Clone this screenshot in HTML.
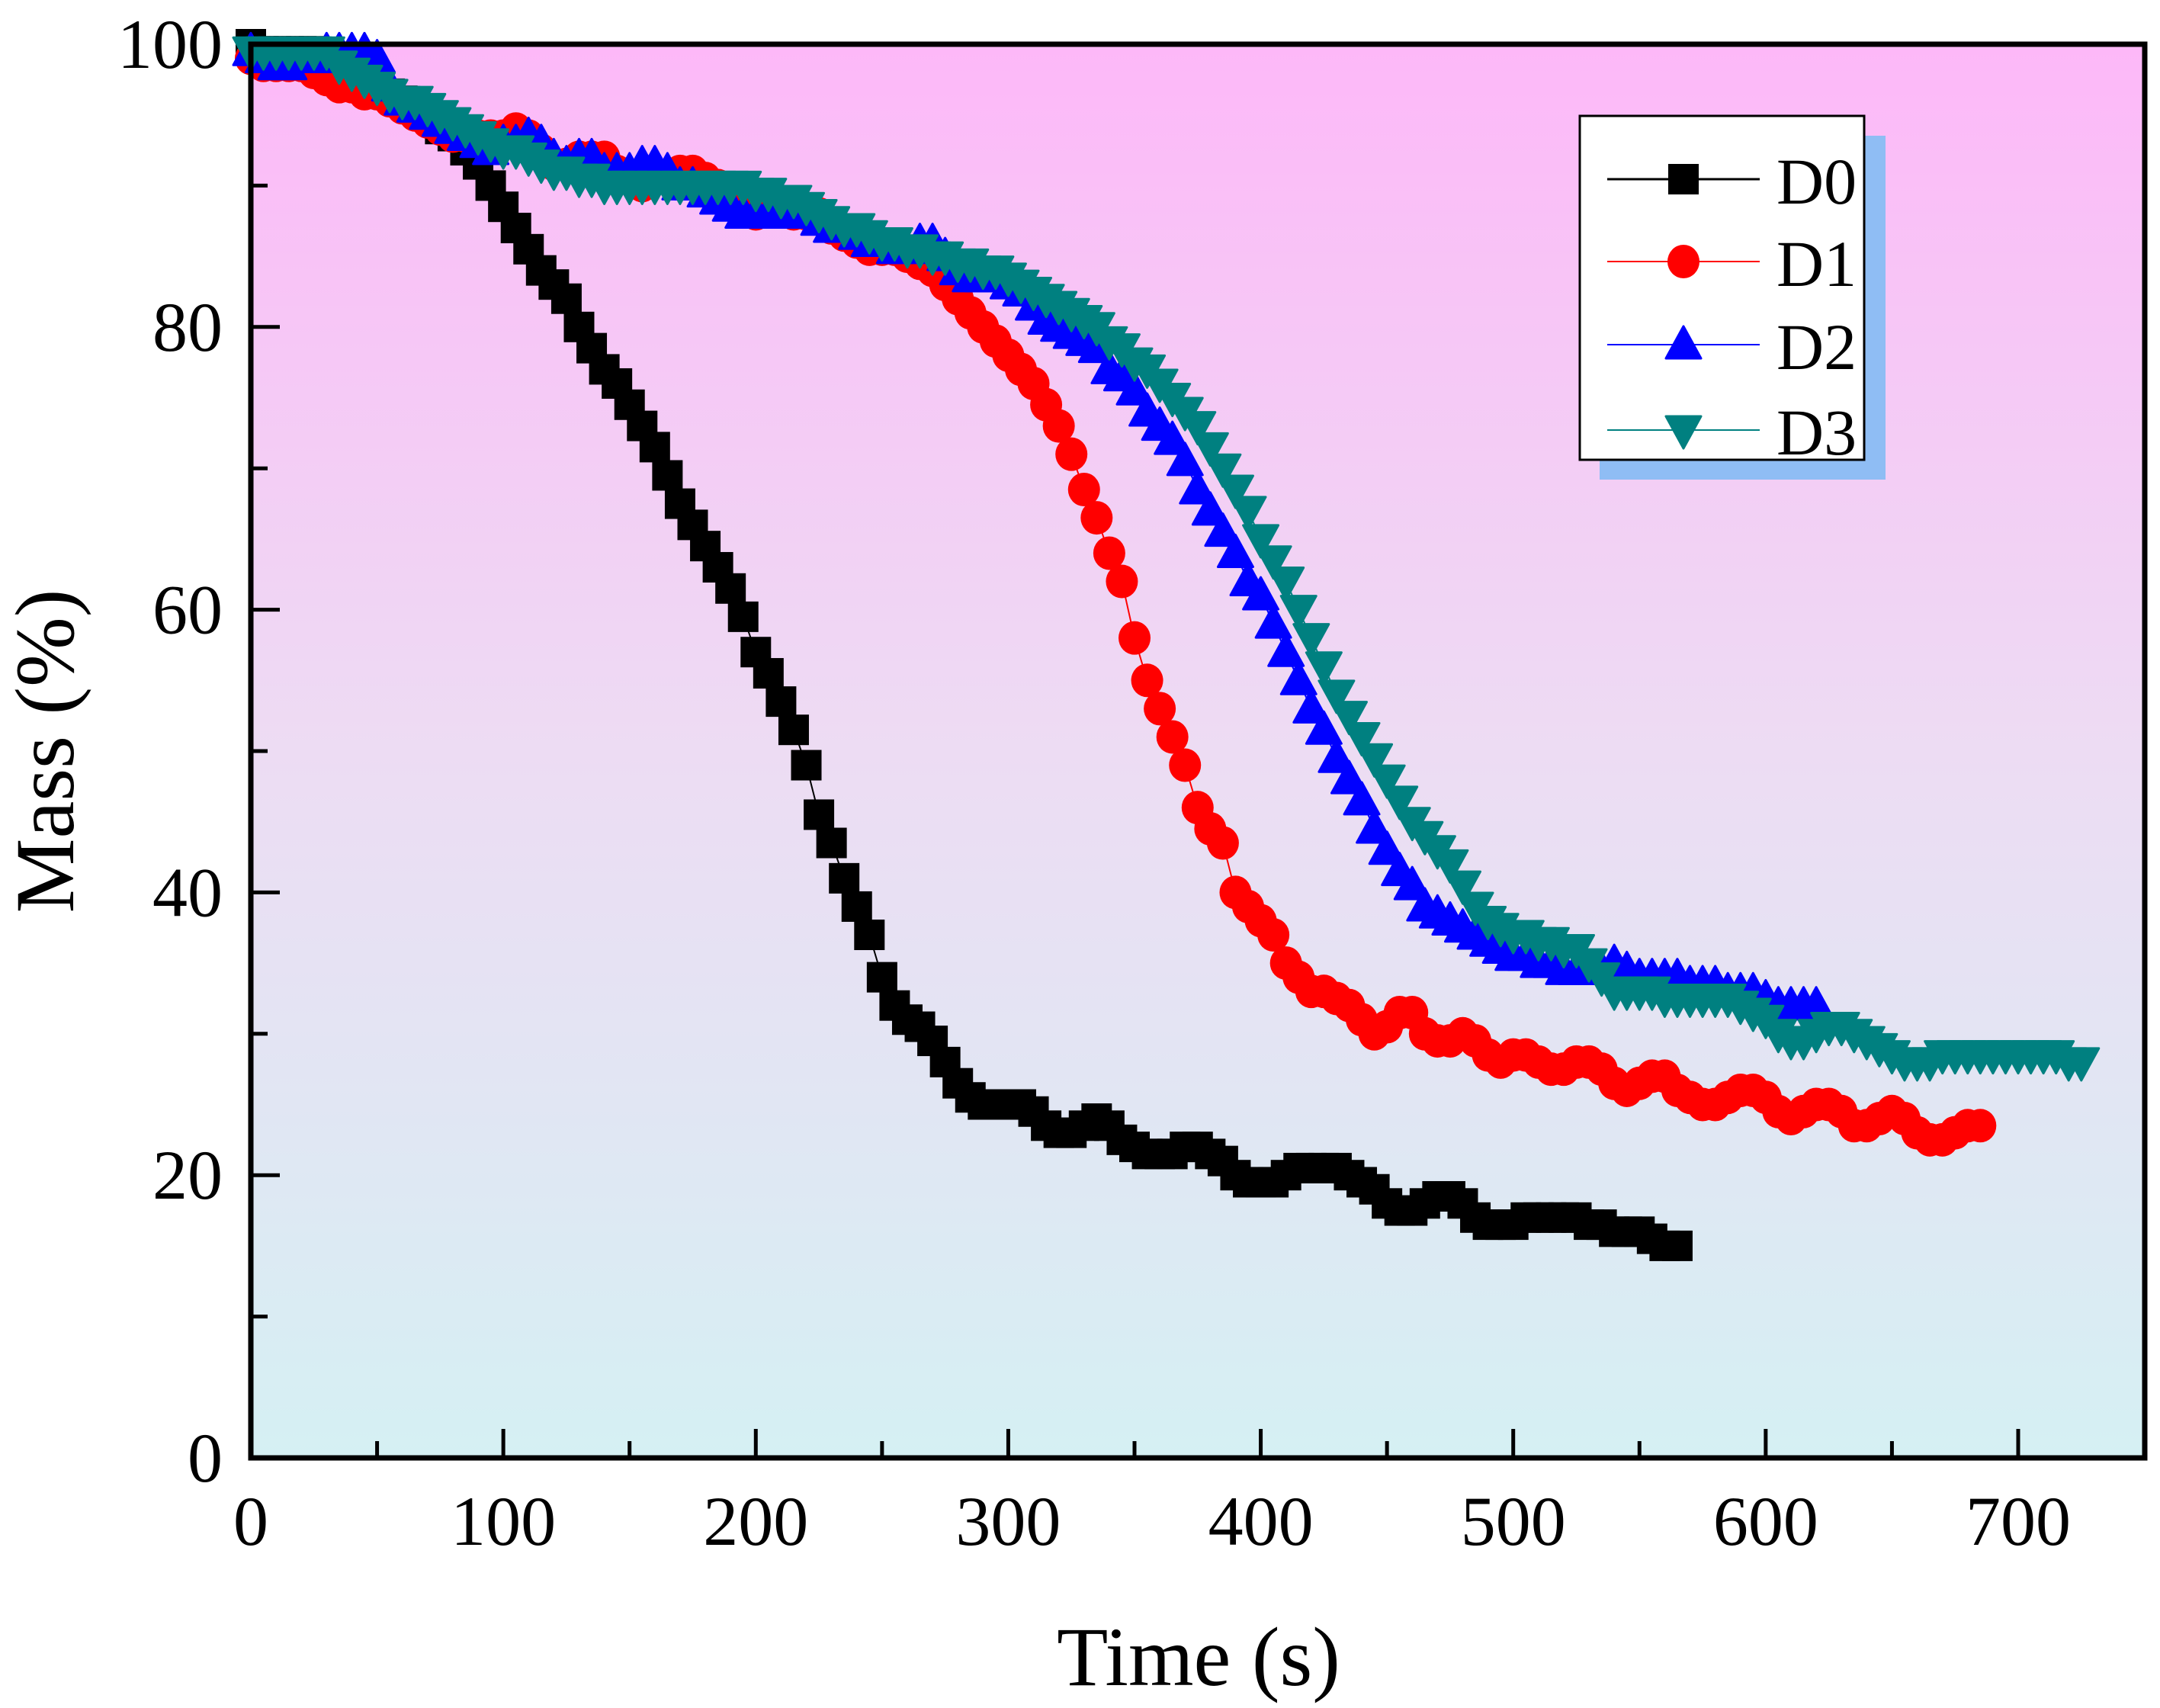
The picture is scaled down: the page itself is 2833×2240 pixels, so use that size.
<!DOCTYPE html>
<html><head><meta charset="utf-8"><style>
html,body{margin:0;padding:0;background:#fff;}
svg{display:block;font-family:"Liberation Serif",serif;}
</style></head><body>
<svg id="chart" width="2833" height="2240" viewBox="0 0 2833 2240" xmlns="http://www.w3.org/2000/svg">
<defs>
<linearGradient id="bg" x1="0" y1="0" x2="0" y2="1">
<stop offset="0" stop-color="#fdb8f8"/>
<stop offset="0.5" stop-color="#eddcf3"/>
<stop offset="1" stop-color="#d5f0f3"/>
</linearGradient>
</defs>
<rect x="329" y="58" width="2484" height="1854" fill="url(#bg)"/>
<g id="ticks"></g>
<g id="series"></g>
<rect x="329" y="58" width="2484" height="1854" fill="none" stroke="#000" stroke-width="7"/>
<g id="labels"></g>
<text x="1572" y="2210" font-size="110" text-anchor="middle">Time (s)</text>
<text transform="translate(96,985) rotate(-90)" font-size="110" text-anchor="middle">Mass (%)</text>
<g>
<rect x="2098" y="178" width="375" height="451" fill="#8fbdf4"/>
<rect x="2072" y="152" width="373" height="451" fill="#fff" stroke="#000" stroke-width="3"/>
<g id="legend-entries"></g>
</g>
</svg>
<script>
const xTicks=[0,100,200,300,400,500,600,700];
const yTicks=[0,20,40,60,80,100];
const seriesNames=["D0","D1","D2","D3"];
const D0=[100,99.5,99.5,99.5,99.5,99.5,99,98.5,98,97.5,97,96.5,96,95.5,95,94,93.5,92.5,91.5,90,88.5,87,85.5,84,83,82,80,78.5,77,76,74.5,73,71.5,69.5,67.5,66,64.5,63,61.5,59.5,57,55.5,53.5,51.5,49,45.5,43.5,41,39,37,34,32,31,30.5,29.5,28,26.5,25.5,25,25,25,25,24.5,23.5,23,23,23.5,24,23.5,22.5,22,21.5,21.5,21.5,22,22,21.5,21,20,19.5,19.5,19.5,20,20.5,20.5,20.5,20.5,20,19.5,19,18,17.5,17.5,18,18.5,18.5,18,17,16.5,16.5,16.5,17,17,17,17,17,16.5,16.5,16,16,16,15.5,15,15];
const D1=[99,98.5,98.5,98.5,98.5,98,97.5,97,97,96.5,96.5,96,95.5,95,94.5,94,93.5,93.5,93.5,93.5,93.5,94,93.5,92.5,91.5,91.5,92,92,92,91,90.5,90,90.5,90.5,91,91,90.5,90,89,88.5,88,88.5,88.5,88,88,88,87,86.5,86,85.5,85.5,85.5,85,84.5,84,83,82,81,80,79,78,77,76,74.5,73,71,68.5,66.5,64,62,58,55,53,51,49,46,44.5,43.5,40,39,38,37,35,34,33,33,32.5,32,31,30,30.5,31.5,31.5,30,29.5,29.5,30,29.5,28.5,28,28.5,28.5,28,27.5,27.5,28,28,27.5,26.5,26,26.5,27,27,26,25.5,25,25,25.5,26,26,25.5,24.5,24,24.5,25,25,24.5,23.5,23.5,24,24.5,24,23,22.5,22.5,23,23.5,23.5];
const D2=[99.5,99,98.5,98.5,99,99,99.5,99.5,99.5,99.5,99,97,96,95.5,95,94.5,94,93.5,93,92.5,93,93,93.5,93,92,91.5,92,92,91,91,91,91.5,91.5,91,90,90,89.5,89,88.5,88,88,88,88,88,88,87.5,87,87,86.5,86,86,85.5,85.5,86,86,85,84,83.5,83.5,83.5,83,82.5,81.5,80.5,80,79.5,79,78.5,77,76.5,75.5,74,73,72,70.5,68.5,67,65.5,64,62,61,59,57,55,53,51.5,49.5,48,46.5,44.5,43,41.5,40.5,39,38.5,38,37.5,37,36.5,36,35.5,35.5,35,35,34.5,34.5,34.5,34.5,35,34.5,34,34,34,34,33.5,33.5,33.5,33,33,33,32.5,32,32,32,32];
const D3=[99.5,99.5,99.5,99.5,99.5,99.5,99.5,98.5,98,97.5,97,96.5,96,96,95.5,95,94.5,94,93.5,93,92.5,92.5,92,91.5,91,91,90.5,90.5,90,90,90,90,90,90,90,90,90,90,90,90,89.5,89.5,89,89,88.5,88,87.5,87,87,86.5,86,86,85.5,85.5,85,85,84.5,84.5,84,84,83.5,83,82.5,82,81.5,81,80.5,80,79,78.5,77.5,77,76,75,74,73,71.5,70,68.5,67,65,63.5,62,60,58,56,54,52.5,51,49.5,48,46.5,45,44,43,42,40.5,39,38,37.5,37,37,36.5,36.5,36,36,35,34,33,33,33,33,32.5,32.5,32.5,32.5,32.5,32.5,32,31.5,31,30,29.5,29.5,30,30.5,30.5,30,29.5,29,28.5,28,28,28,28.5,28.5,28.5,28.5,28.5,28.5,28.5,28.5,28.5,28.5,28,28];
const timeStep=5;
const t0=D0.map((_,i)=>i*timeStep), t1=D1.map((_,i)=>i*timeStep), t2=D2.map((_,i)=>i*timeStep), t3=D3.map((_,i)=>i*timeStep);

const NS="http://www.w3.org/2000/svg";
const L=329,R=2813,T=58,B=1912;
const xs=v=>L+v*(2647-329)/700;
const ys=v=>B-v*(B-T)/100;
function mk(tag,attrs,parent){const e=document.createElementNS(NS,tag);for(const k in attrs)e.setAttribute(k,attrs[k]);parent.appendChild(e);return e;}
const tg=document.getElementById('ticks'),lg=document.getElementById('labels');
for(let v=0;v<=750;v+=50){const x=xs(v);if(x>R)break;const len=v%100===0?38:22;
 const e=mk('line',{x1:x,x2:x,y1:B,y2:B-len,stroke:'#000','stroke-width':5},tg);
 
 }
for(let v=0;v<=100;v+=10){const y=ys(v);const len=v%20===0?38:22;
 const e=mk('line',{x1:L,x2:L+len,y1:y,y2:y,stroke:'#000','stroke-width':5},tg);
 
 }
xTicks.forEach(v=>{const e=mk('text',{x:xs(v),y:2026,'font-size':92,'text-anchor':'middle'},lg);e.textContent=v;
 
 });
yTicks.forEach(v=>{const e=mk('text',{x:292,y:ys(v)+31,'font-size':92,'text-anchor':'end'},lg);e.textContent=v;
 
 });

function marker(type,x,y,color,parent){
 let e;
 if(type==='sq'){e=mk('rect',{x:x-20,y:y-20,width:40,height:40,fill:color},parent);}
 else if(type==='ci'){e=mk('ellipse',{cx:x,cy:y,rx:21,ry:22,fill:color},parent);}
 else if(type==='up'){e=mk('polygon',{points:`${x},${y-24} ${x+23},${y+18} ${x-23},${y+18}`,fill:color,'stroke':color,'stroke-width':3,'stroke-linejoin':'round'},parent);}
 else {e=mk('polygon',{points:`${x-23},${y-18} ${x+23},${y-18} ${x},${y+24}`,fill:color,'stroke':color,'stroke-width':3,'stroke-linejoin':'round'},parent);}
 return e;
}
const sg=document.getElementById('series');
const defs=[[t0,D0,'#000','sq'],[t1,D1,'#ff0000','ci'],[t2,D2,'#0000ff','up'],[t3,D3,'#008080','dn']];
defs.forEach((d,si)=>{
 const g=mk('g',{},sg);
 
 
 const pts=d[0].map((t,i)=>xs(t)+','+ys(d[1][i])).join(' ');
 const pl=mk('polyline',{points:pts,fill:'none',stroke:d[2],'stroke-width':2},g);
 
 
 d[0].forEach((t,i)=>{const m=marker(d[3],xs(t),ys(d[1][i]),d[2],g);
  
  });
});
const le=document.getElementById('legend-entries');
const ly=[235,343,452,564];
defs.forEach((d,si)=>{
 const g=mk('g',{},le);
 
 
 mk('line',{x1:2108,x2:2308,y1:ly[si],y2:ly[si],stroke:d[2],'stroke-width':si===0?3:2},g);
 marker(d[3],2208,ly[si],d[2],g);
 const t=mk('text',{x:2330,y:ly[si]+32,'font-size':86},g);t.textContent=seriesNames[si];
});
</script>
</body></html>
